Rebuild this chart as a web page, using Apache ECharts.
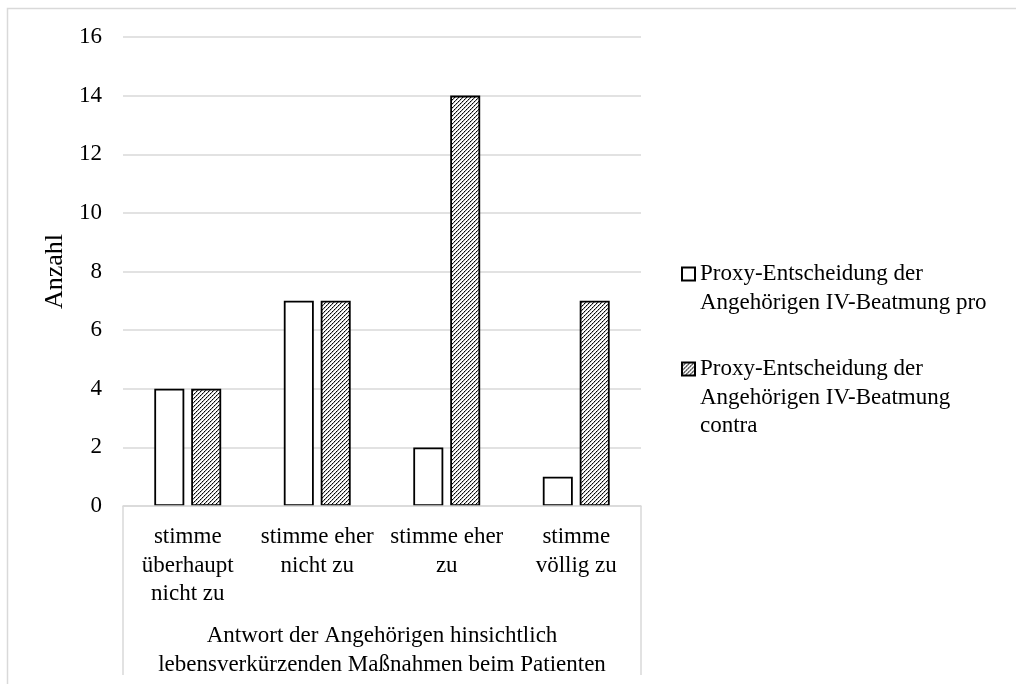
<!DOCTYPE html>
<html>
<head>
<meta charset="utf-8">
<script src="https://cdn.jsdelivr.net/npm/echarts@6/dist/echarts.min.js"></script>
<style>
html,body{margin:0;padding:0;background:#fff;}
#chart{width:1016px;height:684px;}
</style>
</head>
<body>
<div id="chart"></div>
<script>
const categories = ['stimme\nüberhaupt\nnicht zu', 'stimme eher\nnicht zu', 'stimme eher\nzu', 'stimme\nvöllig zu'];
const seriesNames = ['Proxy-Entscheidung der\nAngehörigen IV-Beatmung pro', 'Proxy-Entscheidung der\nAngehörigen IV-Beatmung\ncontra'];
const proValues = [4, 7, 2, 1];
const contraValues = [4, 7, 14, 7];
const yTicks = [0, 2, 4, 6, 8, 10, 12, 14, 16];
const yAxisTitle = 'Anzahl';
const xAxisTitle = 'Antwort der Angehörigen hinsichtlich\nlebensverkürzenden Maßnahmen beim Patienten';

const FONT = '"Liberation Serif", "Times New Roman", serif';
const FS = 23;
const LH = 28.5;

// hatch pattern
const pc = document.createElement('canvas');
pc.width = 8; pc.height = 8;
const pctx = pc.getContext('2d');
pctx.fillStyle = '#fff';
pctx.fillRect(0, 0, 8, 8);
for (let x = 0; x < 8; x++) {
  for (let y = 0; y < 8; y++) {
    const k = (x + y) % 4;
    if (k === 3) { pctx.fillStyle = (x % 2 === 0) ? '#000' : '#444'; pctx.fillRect(x, y, 1, 1); }
    else if (k === 0) { pctx.fillStyle = '#bbb'; pctx.fillRect(x, y, 1, 1); }
  }
}
const hatch = { image: pc, repeat: 'repeat' };

const chart = echarts.init(document.getElementById('chart'), null, { renderer: 'canvas' });

// legend text is centred on its icon; pad with leading empty lines so the icon sits on the first line
function legendCfg(name, iconCenter) {
  const n = name.split('\n').length;
  const pad = '\u200b\n'.repeat(n - 1);
  return {
    show: true,
    orient: 'vertical',
    left: 681,
    top: iconCenter - (2 * n - 1) * LH / 2,
    padding: 0,
    itemWidth: 13,
    itemHeight: 13,
    icon: 'rect',
    data: [{ name: name, icon: 'rect' }],
    selectedMode: false,
    formatter: function (nm) { return pad + nm; },
    textStyle: {
      fontFamily: FONT,
      fontSize: FS,
      lineHeight: LH,
      color: '#000'
    }
  };
}

const option = {
  backgroundColor: '#fff',
  animation: false,
  grid: { left: 123, right: 375, top: 37, bottom: 176.5, containLabel: false },
  legend: [
    legendCfg(seriesNames[0], 274),
    legendCfg(seriesNames[1], 369)
  ],
  xAxis: {
    type: 'category',
    data: categories,
    axisLine: { show: true, lineStyle: { color: '#d9d9d9', width: 1.5 } },
    axisTick: { show: false },
    axisLabel: {
      interval: 0,
      margin: 17,
      fontFamily: FONT,
      fontSize: FS,
      lineHeight: LH,
      color: '#000'
    },
    name: xAxisTitle,
    nameLocation: 'middle',
    nameGap: 116,
    nameTextStyle: { fontFamily: FONT, fontSize: FS, lineHeight: LH, color: '#000' },
    z: 3
  },
  yAxis: {
    type: 'value',
    min: yTicks[0],
    max: yTicks[yTicks.length - 1],
    interval: yTicks[1] - yTicks[0],
    axisLine: { show: false },
    axisTick: { show: false },
    splitLine: { lineStyle: { color: '#d9d9d9', width: 1.5 } },
    axisLabel: { margin: 21, fontFamily: FONT, fontSize: FS, color: '#000' },
    name: yAxisTitle,
    nameLocation: 'middle',
    nameGap: 55,
    nameRotate: 90,
    nameTextStyle: { fontFamily: FONT, fontSize: 26, color: '#000' }
  },
  series: [
    {
      name: seriesNames[0],
      type: 'bar',
      data: proValues,
      barWidth: 30,
      barGap: '23%',
      itemStyle: { color: '#fff', borderColor: '#000', borderWidth: 1.8 }
    },
    {
      name: seriesNames[1],
      type: 'bar',
      data: contraValues,
      barWidth: 30,
      itemStyle: { color: hatch, borderColor: '#000', borderWidth: 1.8 }
    }
  ]
};
chart.setOption(option);

// decorative frame: outer chart border and category axis box
const c0 = chart.convertToPixel({ gridIndex: 0 }, [0, 0]);
const c1 = chart.convertToPixel({ gridIndex: 0 }, [1, 0]);
const cN = chart.convertToPixel({ gridIndex: 0 }, [categories.length - 1, 0]);
const band = c1[0] - c0[0];
const xl = c0[0] - band / 2, xr = cN[0] + band / 2, yb = c0[1];
chart.setOption({
  graphic: [
    { type: 'rect', shape: { x: 7.5, y: 8.5, width: 1200, height: 900 }, style: { fill: null, stroke: '#d9d9d9', lineWidth: 1.5 }, silent: true },
    { type: 'line', shape: { x1: xl, y1: yb, x2: xl, y2: 675 }, style: { stroke: '#d9d9d9', lineWidth: 1.5 }, silent: true },
    { type: 'line', shape: { x1: xr, y1: yb, x2: xr, y2: 675 }, style: { stroke: '#d9d9d9', lineWidth: 1.5 }, silent: true }
  ]
});
</script>
</body>
</html>
